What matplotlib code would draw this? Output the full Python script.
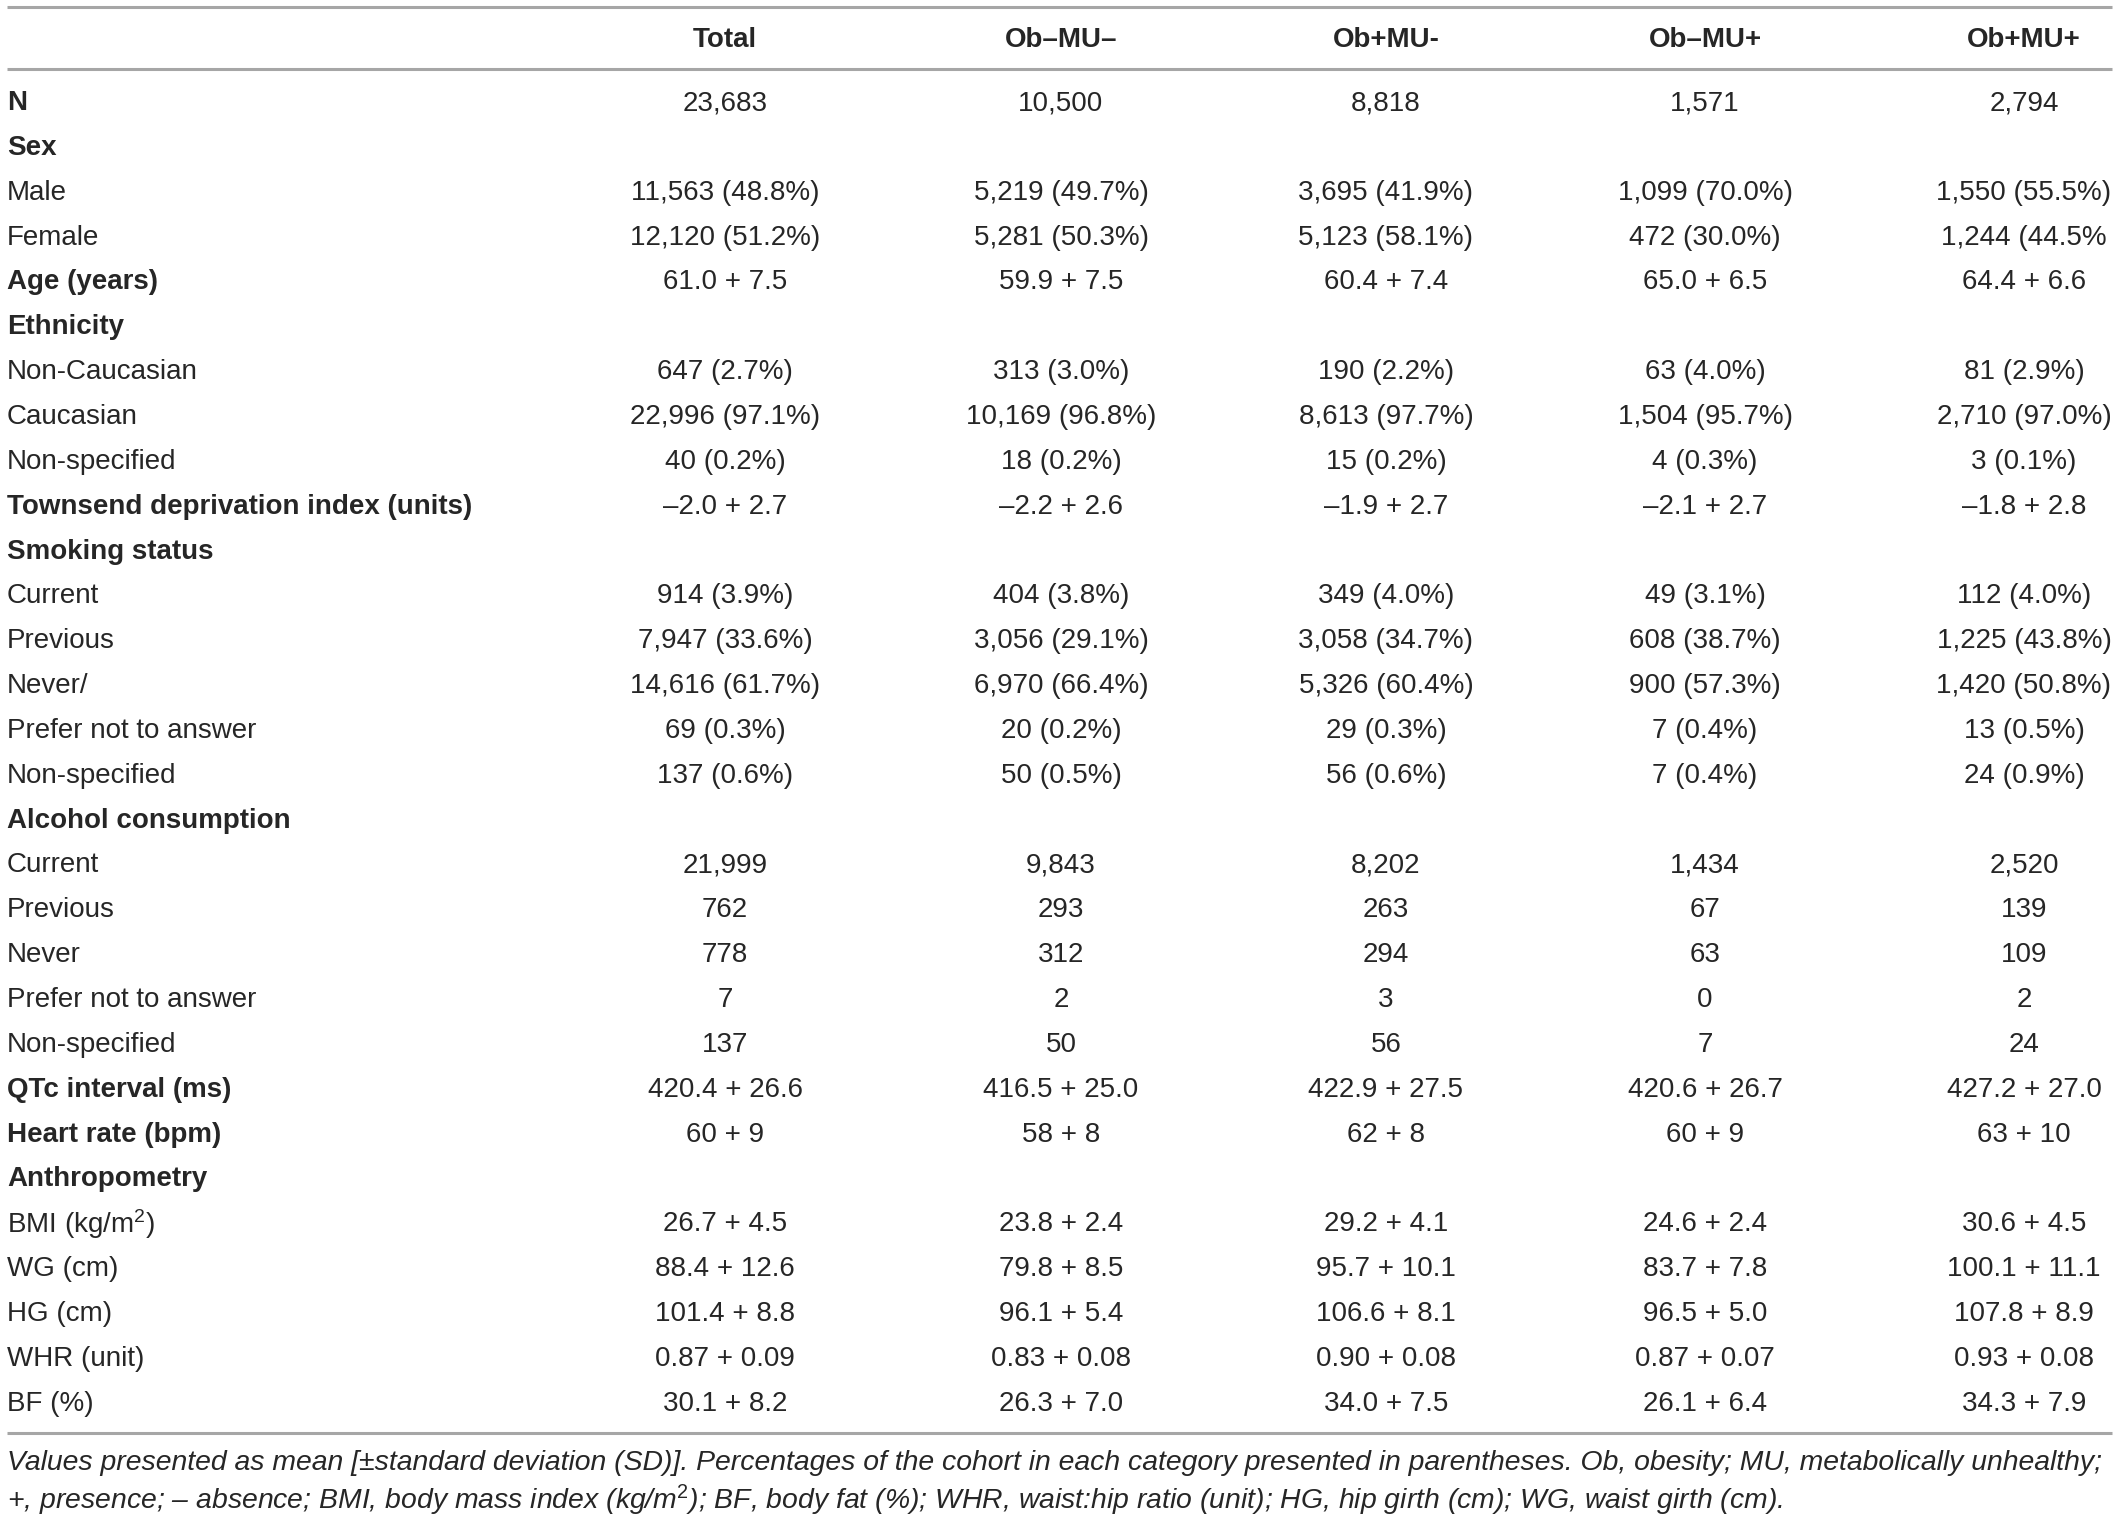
import matplotlib
matplotlib.use("Agg")
import matplotlib.pyplot as plt

plt.rcParams['font.family'] = ['Liberation Sans', 'DejaVu Sans']
plt.rcParams['mathtext.fontset'] = 'custom'
plt.rcParams['mathtext.rm'] = 'Liberation Sans'
plt.rcParams['mathtext.it'] = 'Liberation Sans:italic'
plt.rcParams['mathtext.bf'] = 'Liberation Sans:bold'

columns = ["Total", "Ob\u2013MU\u2013", "Ob+MU-", "Ob\u2013MU+", "Ob+MU+"]

row_labels = [
    "N", "Sex", "Male", "Female", "Age (years)", "Ethnicity", "Non-Caucasian",
    "Caucasian", "Non-specified", "Townsend deprivation index (units)",
    "Smoking status", "Current", "Previous", "Never/", "Prefer not to answer",
    "Non-specified", "Alcohol consumption", "Current", "Previous", "Never",
    "Prefer not to answer", "Non-specified", "QTc interval (ms)",
    "Heart rate (bpm)", "Anthropometry", "BMI (kg/m$^{2}$)", "WG (cm)",
    "HG (cm)", "WHR (unit)", "BF (%)",
]

bold_rows = ["N", "Sex", "Age (years)", "Ethnicity",
             "Townsend deprivation index (units)", "Smoking status",
             "Alcohol consumption", "QTc interval (ms)", "Heart rate (bpm)",
             "Anthropometry"]

total = ["23,683", "", "11,563 (48.8%)", "12,120 (51.2%)", "61.0 + 7.5", "",
         "647 (2.7%)", "22,996 (97.1%)", "40 (0.2%)", "\u20132.0 + 2.7", "",
         "914 (3.9%)", "7,947 (33.6%)", "14,616 (61.7%)", "69 (0.3%)",
         "137 (0.6%)", "", "21,999", "762", "778", "7", "137",
         "420.4 + 26.6", "60 + 9", "", "26.7 + 4.5", "88.4 + 12.6",
         "101.4 + 8.8", "0.87 + 0.09", "30.1 + 8.2"]

ob_m_mu_m = ["10,500", "", "5,219 (49.7%)", "5,281 (50.3%)", "59.9 + 7.5", "",
             "313 (3.0%)", "10,169 (96.8%)", "18 (0.2%)", "\u20132.2 + 2.6", "",
             "404 (3.8%)", "3,056 (29.1%)", "6,970 (66.4%)", "20 (0.2%)",
             "50 (0.5%)", "", "9,843", "293", "312", "2", "50",
             "416.5 + 25.0", "58 + 8", "", "23.8 + 2.4", "79.8 + 8.5",
             "96.1 + 5.4", "0.83 + 0.08", "26.3 + 7.0"]

ob_p_mu_m = ["8,818", "", "3,695 (41.9%)", "5,123 (58.1%)", "60.4 + 7.4", "",
             "190 (2.2%)", "8,613 (97.7%)", "15 (0.2%)", "\u20131.9 + 2.7", "",
             "349 (4.0%)", "3,058 (34.7%)", "5,326 (60.4%)", "29 (0.3%)",
             "56 (0.6%)", "", "8,202", "263", "294", "3", "56",
             "422.9 + 27.5", "62 + 8", "", "29.2 + 4.1", "95.7 + 10.1",
             "106.6 + 8.1", "0.90 + 0.08", "34.0 + 7.5"]

ob_m_mu_p = ["1,571", "", "1,099 (70.0%)", "472 (30.0%)", "65.0 + 6.5", "",
             "63 (4.0%)", "1,504 (95.7%)", "4 (0.3%)", "\u20132.1 + 2.7", "",
             "49 (3.1%)", "608 (38.7%)", "900 (57.3%)", "7 (0.4%)",
             "7 (0.4%)", "", "1,434", "67", "63", "0", "7",
             "420.6 + 26.7", "60 + 9", "", "24.6 + 2.4", "83.7 + 7.8",
             "96.5 + 5.0", "0.87 + 0.07", "26.1 + 6.4"]

ob_p_mu_p = ["2,794", "", "1,550 (55.5%)", "1,244 (44.5%", "64.4 + 6.6", "",
             "81 (2.9%)", "2,710 (97.0%)", "3 (0.1%)", "\u20131.8 + 2.8", "",
             "112 (4.0%)", "1,225 (43.8%)", "1,420 (50.8%)", "13 (0.5%)",
             "24 (0.9%)", "", "2,520", "139", "109", "2", "24",
             "427.2 + 27.0", "63 + 10", "", "30.6 + 4.5", "100.1 + 11.1",
             "107.8 + 8.9", "0.93 + 0.08", "34.3 + 7.9"]

footnote = [
    "Values presented as mean [\u00b1standard deviation (SD)]. Percentages of the cohort in each category presented in parentheses. Ob, obesity; MU, metabolically unhealthy;",
    "+, presence; \u2013 absence; BMI, body mass index (kg/m$^{2}$); BF, body fat (%); WHR, waist:hip ratio (unit); HG, hip girth (cm); WG, waist girth (cm).",
]

value_cols = [total, ob_m_mu_m, ob_p_mu_m, ob_m_mu_p, ob_p_mu_p]

# ---- layout (pixels) ----
W, H = 2118, 1517
fig = plt.figure(figsize=(W / 100, H / 100), dpi=100)
ax = fig.add_axes([0, 0, 1, 1])
ax.set_xlim(0, W)
ax.set_ylim(H, 0)
ax.axis('off')

txt = '#262626'
line_c = '#a6a6a6'
fs = 20
col_x = [725, 1061, 1386, 1705, 2024]
label_x = 7
header_y = 40
row_y0 = 103
row_dy = 44.85

for y in (7, 69, 1433):
    ax.plot([7, 2112], [y, y], color=line_c, lw=2.2, solid_capstyle='butt')

for cx, name in zip(col_x, columns):
    ax.text(cx, header_y, name, ha='center', va='center', fontsize=fs,
            fontweight='bold', color=txt)

for i, lab in enumerate(row_labels):
    y = row_y0 + i * row_dy
    ax.text(label_x, y, lab, ha='left', va='center', fontsize=fs,
            fontweight='bold' if lab in bold_rows else 'normal', color=txt)
    for cx, vals in zip(col_x, value_cols):
        if vals[i]:
            ax.text(cx, y, vals[i], ha='center', va='center', fontsize=fs,
                    color=txt)

for j, line in enumerate(footnote):
    ax.text(label_x, 1463 + j * 37, line, ha='left', va='center',
            fontsize=20.4, style='italic', color=txt)

fig.savefig('out.png', dpi=100)
